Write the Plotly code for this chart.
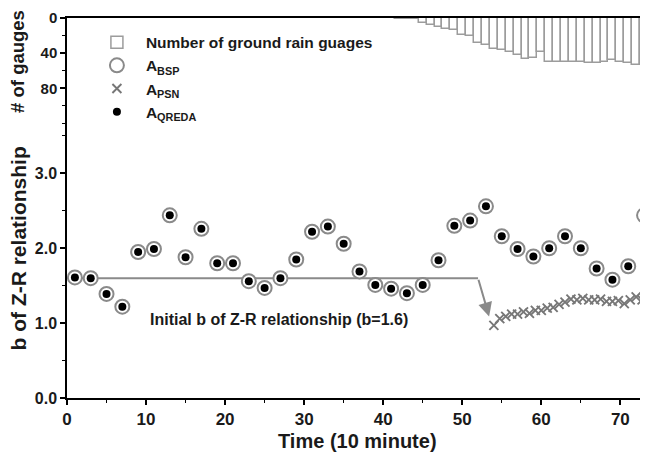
import plotly.graph_objects as go

# ---------------- data ----------------
t_circ = [1, 3, 5, 7, 9, 11, 13, 15, 17, 19, 21, 23, 25, 27, 29, 31, 33, 35, 37,
          39, 41, 43, 45, 47, 49, 51, 53, 55, 57, 59, 61, 63, 65, 67, 69, 71, 73]
b_bsp = [1.61, 1.60, 1.39, 1.22, 1.95, 1.99, 2.44, 1.88, 2.26, 1.80, 1.80, 1.56,
         1.47, 1.60, 1.85, 2.22, 2.29, 2.06, 1.69, 1.51, 1.46, 1.40, 1.51, 1.84,
         2.30, 2.37, 2.56, 2.16, 1.99, 1.89, 2.00, 2.16, 2.00, 1.73, 1.58, 1.76, 2.44]
b_qreda = [1.61, 1.60, 1.39, 1.22, 1.95, 1.99, 2.44, 1.88, 2.26, 1.80, 1.80, 1.56,
           1.47, 1.60, 1.85, 2.22, 2.29, 2.06, 1.69, 1.51, 1.46, 1.40, 1.51, 1.84,
           2.30, 2.37, 2.56, 2.16, 1.99, 1.89, 2.00, 2.16, 2.00, 1.73, 1.58, 1.76, 2.44]

t_psn = [54.0, 54.75, 55.5, 56.25, 57.0, 57.75, 58.5, 59.25, 60.0, 60.75, 61.5,
         62.25, 63.0, 63.75, 64.5, 65.25, 66.0, 66.75, 67.5, 68.25, 69.0, 69.75,
         70.5, 71.25, 72.0, 72.75, 73.5]
b_psn = [0.97, 1.06, 1.09, 1.12, 1.12, 1.15, 1.13, 1.17, 1.17, 1.20, 1.21,
         1.25, 1.28, 1.32, 1.31, 1.33, 1.31, 1.31, 1.32, 1.29, 1.29, 1.30,
         1.26, 1.31, 1.35, 1.31, 1.35]

t_gauge = [42, 43, 44, 45, 46, 47, 48, 49, 50, 51, 52, 53, 54, 55, 56, 57, 58, 59,
           60, 61, 62, 63, 64, 65, 66, 67, 68, 69, 70, 71, 72, 73]
n_gauge = [1.5, 1.5, 1.5, 6, 8, 10, 12.5, 13.5, 19, 21, 28.5, 30.5, 35, 36, 39, 42,
           47, 45, 39, 50, 50, 50, 50, 50, 51, 51, 50, 48, 50, 51, 53, 52]

init_t = [0, 52]
init_b = [1.6, 1.6]
arrow_tip = (53.4, 1.09)

x_ticks = [0, 10, 20, 30, 40, 50, 60, 70]
b_ticks = [0, 1, 2, 3]
g_ticks = [0, 40, 80]

# ---------------- styles ----------------
FONT = "Liberation Sans, Arial, sans-serif"
GRAY = "#8a8a8a"
TXT = "#1a1a1a"

fig = go.Figure()

fig.add_trace(go.Bar(
    x=t_gauge, y=n_gauge, xaxis="x2", yaxis="y2", width=1.0,
    marker=dict(color="white", line=dict(color="#9c9c9c", width=1.5)),
    name="Number of ground rain guages", legendgroup="g1",
))
fig.add_trace(go.Scatter(
    x=init_t, y=init_b, mode="lines", line=dict(color=GRAY, width=2),
    showlegend=False, hoverinfo="skip",
))
fig.add_trace(go.Scatter(
    x=t_circ, y=b_bsp, mode="markers", name="A<sub>BSP</sub>", legendgroup="g2",
    cliponaxis=False,
    marker=dict(symbol="circle", size=14, color="white",
                line=dict(color=GRAY, width=2)),
))
fig.add_trace(go.Scatter(
    x=t_psn, y=b_psn, mode="markers", name="A<sub>PSN</sub>", legendgroup="g3",
    marker=dict(symbol="x-thin-open", size=9, color="#777777",
                line=dict(color="#777777", width=1.9)),
))
fig.add_trace(go.Scatter(
    x=t_circ, y=b_qreda, mode="markers", name="A<sub>QREDA</sub>", legendgroup="g4",
    cliponaxis=False,
    marker=dict(symbol="circle", size=8, color="black", line=dict(width=0)),
))

fig.add_annotation(
    x=arrow_tip[0], y=arrow_tip[1], ax=init_t[1], ay=init_b[1],
    xref="x", yref="y", axref="x", ayref="y", text="", showarrow=True,
    arrowhead=2, arrowsize=1.4, arrowwidth=2, arrowcolor=GRAY, standoff=0,
)
fig.add_annotation(
    x=10.3, y=1.05, xref="x", yref="y", xanchor="left", yanchor="middle",
    text="Initial b of Z-R relationship (b=1.6)", showarrow=False,
    font=dict(family=FONT, size=16, color=TXT, weight="bold"),
)
# axis titles
fig.add_annotation(
    x=0.5, y=-0.114, xref="paper", yref="paper", xanchor="center", yanchor="middle",
    text="Time (10 minute)", showarrow=False,
    font=dict(family=FONT, size=20, color=TXT, weight="bold"),
)
fig.add_annotation(
    x=-0.083, y=0.393, xref="paper", yref="paper", xanchor="center", yanchor="middle",
    text="b of Z-R relationship", showarrow=False, textangle=-90,
    font=dict(family=FONT, size=21, color=TXT, weight="bold"),
)
fig.add_annotation(
    x=-0.084, y=0.885, xref="paper", yref="paper", xanchor="center", yanchor="middle",
    text="# of gauges", showarrow=False, textangle=-90,
    font=dict(family=FONT, size=18.5, color=TXT, weight="bold"),
)

split = 0.718
axis_common = dict(showline=True, linecolor="black", linewidth=1.5,
                   showgrid=False, zeroline=False, automargin=False)

fig.update_layout(
    width=640, height=446,
    margin=dict(l=59, r=0, t=10, b=56),
    paper_bgcolor="white", plot_bgcolor="white",
    bargap=0,
    font=dict(family=FONT, color=TXT),
    xaxis=dict(range=[0, 73.5], tickvals=x_ticks, ticks="outside", ticklen=5,
               tickwidth=1.5, tickcolor="black",
               tickfont=dict(family=FONT, size=17, color=TXT, weight="bold"),
               minor=dict(dtick=5, tick0=0, ticks="outside", ticklen=3,
                          tickcolor="black", tickwidth=1.2),
               anchor="y", **axis_common),
    xaxis2=dict(range=[0, 73.5], matches="x", anchor="y2", side="top",
                showticklabels=False, ticks="", showline=True, linecolor="black",
                linewidth=2, showgrid=False, zeroline=False),
    yaxis=dict(domain=[0, split], range=[0, 3.644], tickvals=b_ticks,
               tickformat=".1f", ticks="outside", ticklen=5, tickwidth=1.5,
               tickcolor="black",
               tickfont=dict(family=FONT, size=16, color=TXT, weight="bold"),
               minor=dict(dtick=0.5, tick0=0, ticks="outside", ticklen=3,
                          tickcolor="black", tickwidth=1.2),
               **axis_common),
    yaxis2=dict(domain=[split, 1], range=[122, 0], tickvals=g_ticks,
                ticks="outside", ticklen=5, tickwidth=1.5, tickcolor="black",
                tickfont=dict(family=FONT, size=15, color=TXT, weight="bold"),
                minor=dict(dtick=20, tick0=0, ticks="outside", ticklen=3,
                           tickcolor="black", tickwidth=1.2),
                anchor="x2", **axis_common),
    legend=dict(x=0.036, y=0.98, xanchor="left", yanchor="top",
                bgcolor="rgba(0,0,0,0)", itemwidth=48, tracegroupgap=0,
                font=dict(family=FONT, size=15.5, color=TXT, weight="bold")),
    showlegend=True,
)

fig.write_html("out.html")
